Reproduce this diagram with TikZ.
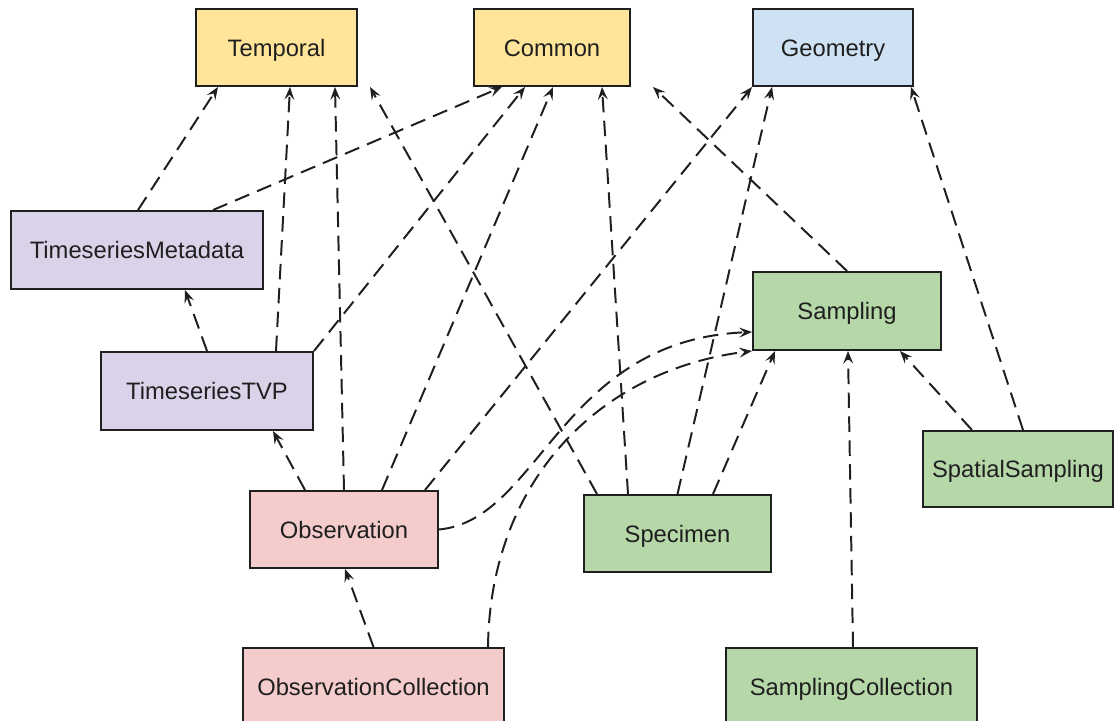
\documentclass[tikz,border=0pt]{standalone}
\usepackage{fontspec}
\setmainfont{Liberation Sans}
\usetikzlibrary{arrows.meta,calc}
\definecolor{cyellow}{HTML}{FFE599}
\definecolor{cblue}{HTML}{CFE2F3}
\definecolor{cpurple}{HTML}{D9D2E9}
\definecolor{cred}{HTML}{F4CCCC}
\definecolor{cgreen}{HTML}{B6D7A8}
\definecolor{ink}{HTML}{1F1F1F}
\begin{document}
\begin{tikzpicture}[x=0.025cm,y=-0.025cm,
  pkg/.style={draw=ink,line width=1.4pt,rectangle,minimum height=77*0.025cm,
    inner sep=0pt,text=ink,text height=12.1pt,text depth=0pt,
    font=\fontsize{16.9}{20}\selectfont},
  dep/.style={draw=ink,line width=1.4pt,dash pattern=on 11pt off 6pt,
    -{Stealth[length=9pt,width=7pt,inset=3.5pt]}}]
\clip (0,0) rectangle (1116,721);
\fill[white] (0,0) rectangle (1116,721);

% packages
\node[pkg,fill=cyellow,minimum width=161*0.025cm] (tmp) at (276.5,47.5) {Temporal};
\node[pkg,fill=cyellow,minimum width=156*0.025cm] (com) at (552,47.5) {Common};
\node[pkg,fill=cblue,minimum width=160*0.025cm] (geo) at (833,47.5) {Geometry};
\node[pkg,fill=cpurple,minimum width=252*0.025cm,minimum height=78*0.025cm] (tsm) at (137,250) {TimeseriesMetadata};
\node[pkg,fill=cpurple,minimum width=212*0.025cm,minimum height=78*0.025cm] (tvp) at (207,391) {TimeseriesTVP};
\node[pkg,fill=cgreen,minimum width=188*0.025cm,minimum height=78*0.025cm] (smp) at (847,311) {Sampling};
\node[pkg,fill=cgreen,minimum width=190*0.025cm,minimum height=76*0.025cm] (ssp) at (1018,469) {SpatialSampling};
\node[pkg,fill=cred,minimum width=188*0.025cm] (obs) at (344,529.5) {Observation};
\node[pkg,fill=cgreen,minimum width=187*0.025cm] (spc) at (677.5,533.5) {Specimen};
\node[pkg,fill=cred,minimum width=261*0.025cm] (obc) at (373.5,686.5) {ObservationCollection};
\node[pkg,fill=cgreen,minimum width=251*0.025cm] (smc) at (851.5,686.5) {SamplingCollection};

% dependencies on Temporal
\draw[dep] ($(tsm.north)+(1,0)$) -- ($(tmp.south)+(-58.5,0)$);
\draw[dep] ($(tvp.north)+(69,0)$) -- ($(tmp.south)+(13.5,0)$);
\draw[dep] (obs.north) -- ($(tmp.south)+(58.5,0)$);
\draw[dep] ($(spc.north)+(-80.5,0)$) -- ($(tmp.south)+(93.5,0)$);

% dependencies on Common
\draw[dep] ($(tsm.north)+(76,0)$) -- ($(com.south)+(-50,0)$);
\draw[dep] (tvp.north east) -- ($(com.south)+(-27,0)$);
\draw[dep] ($(obs.north)+(38,0)$) -- ($(com.south)+(1,0)$);
\draw[dep] ($(spc.north)+(-49.5,0)$) -- ($(com.south)+(50,0)$);
\draw[dep] (smp.north) -- ($(com.south)+(101,0)$);

% dependencies on Geometry
\draw[dep] ($(obs.north)+(81,0)$) -- (geo.south west);
\draw[dep] (spc.north) -- ($(geo.south)+(-61,0)$);
\draw[dep] ($(ssp.north)+(5,0)$) -- ($(geo.south)+(78,0)$);

% dependencies on Sampling
\draw[dep] (obs.east) .. controls (540,520) and (560,340) .. ($(smp.west)+(0,21)$);
\draw[dep] ($(obc.north)+(114.5,0)$) .. controls (490,480) and (600,370) .. (smp.south west);
\draw[dep] ($(spc.north)+(35.5,0)$) -- ($(smp.south)+(-72,0)$);
\draw[dep] ($(smc.north)+(1.5,0)$) -- ($(smp.south)+(1,0)$);
\draw[dep] ($(ssp.north)+(-46,0)$) -- ($(smp.south)+(53,0)$);

% remaining dependencies
\draw[dep] (tvp.north) -- ($(tsm.south)+(48,0)$);
\draw[dep] ($(obs.north)+(-39,0)$) -- ($(tvp.south)+(66,0)$);
\draw[dep] (obc.north) -- ($(obs.south)+(1,0)$);
\end{tikzpicture}
\end{document}
